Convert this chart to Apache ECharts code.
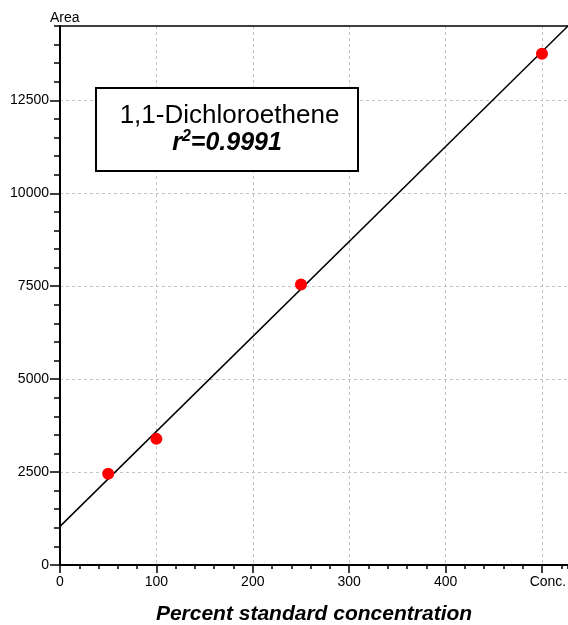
<!DOCTYPE html>
<html>
<head>
<meta charset="utf-8">
<script src="https://cdn.jsdelivr.net/npm/echarts@6/dist/echarts.min.js"></script>
<style>
html,body{margin:0;padding:0;background:#fff;}
#chart{width:568px;height:625px;}
</style>
</head>
<body>
<div id="chart"></div>
<script>
// ---- data ----
const concentrations = [50, 100, 250, 500];
const areas = [2453, 3393, 7549, 13755];
// regression line end points
const fitX = [0, 527];
const fitY = [1040, 14500];
// x tick labels (value -> text)
const xTickValues = [0, 100, 200, 300, 400, 500];
const xTickLabels = ['0', '100', '200', '300', '400', 'Conc.'];
const compoundName = '1,1-Dichloroethene';
const r2Text = '=0.9991';
const yAxisTitle = 'Area';
const xAxisTitle = 'Percent standard concentration';

const FONT = 'Liberation Sans, Arial, sans-serif';
const chart = echarts.init(document.getElementById('chart'), null, {renderer: 'canvas'});

const gridDash = {type: [3, 3], color: '#c4c4c4', width: 1};
const X_MAX = 527, Y_MAX = 14500;

const option = {
  animation: false,
  backgroundColor: '#fff',
  grid: {left: 60, right: 0, top: 26, bottom: 60, containLabel: false, outerBoundsMode: 'none'},
  xAxis: [
    {
      type: 'value', min: 0, max: X_MAX, interval: 100, position: 'bottom',
      axisLine: {show: true, lineStyle: {color: '#000', width: 2}},
      axisTick: {show: true, inside: false, length: 8, lineStyle: {color: '#000', width: 1.5}},
      axisLabel: {
        show: true, margin: 10, fontSize: 14, color: '#000', fontFamily: FONT,
        showMaxLabel: false,
        formatter: function (v) {
          const i = xTickValues.indexOf(v);
          if (i < 0) return '';
          if (xTickLabels[i] === 'Conc.') return '{c|' + xTickLabels[i] + '}';
          return xTickLabels[i];
        },
        rich: {c: {fontSize: 14, color: '#000', fontFamily: FONT, padding: [0, 0, 0, 12]}}
      },
      splitLine: {show: true, showMaxLine: false, lineStyle: gridDash},
      name: xAxisTitle, nameLocation: 'middle', nameGap: 39,
      nameTextStyle: {fontSize: 21, fontWeight: 'bold', fontStyle: 'italic', color: '#000', fontFamily: FONT}
    },
    {
      type: 'value', min: 0, max: X_MAX, interval: 20, position: 'bottom',
      axisLine: {show: false},
      axisTick: {show: true, inside: false, length: 4, lineStyle: {color: '#000', width: 1.5}},
      axisLabel: {show: false}, splitLine: {show: false}
    },
    {
      type: 'value', min: 0, max: X_MAX, position: 'top',
      axisLine: {show: true, lineStyle: {color: '#000', width: 1.5}},
      axisTick: {show: false}, axisLabel: {show: false}, splitLine: {show: false}
    }
  ],
  yAxis: [
    {
      type: 'value', min: 0, max: Y_MAX, interval: 2500, position: 'left',
      axisLine: {show: true, lineStyle: {color: '#000', width: 2}},
      axisTick: {show: true, inside: false, length: 10, lineStyle: {color: '#000', width: 1.5}},
      axisLabel: {
        show: true, margin: 11, fontSize: 14, color: '#000', fontFamily: FONT, showMaxLabel: false,
        formatter: function (v) { return String(v); }
      },
      splitLine: {show: true, showMaxLine: false, lineStyle: gridDash}
    },
    {
      type: 'value', min: 0, max: Y_MAX, interval: 500, position: 'left',
      axisLine: {show: false},
      axisTick: {show: true, inside: false, length: 6, lineStyle: {color: '#000', width: 1.5}},
      axisLabel: {show: false}, splitLine: {show: false}
    }
  ],
  series: [
    {
      type: 'line', xAxisIndex: 0, yAxisIndex: 0,
      data: fitX.map((x, i) => [x, fitY[i]]),
      symbol: 'none', silent: true, z: 2,
      lineStyle: {color: '#000', width: 1.5}
    },
    {
      type: 'scatter', xAxisIndex: 0, yAxisIndex: 0,
      data: concentrations.map((x, i) => [x, areas[i]]),
      symbol: 'circle', symbolSize: 12, z: 3,
      itemStyle: {color: '#ff0000', opacity: 1}
    }
  ],
  graphic: [
    {
      type: 'text', left: 50, top: 11, z: 10,
      style: {text: yAxisTitle, font: '14px ' + FONT, fill: '#000'}
    },
    {
      type: 'rect', z: 10,
      shape: {x: 96, y: 88, width: 262, height: 83},
      style: {fill: '#fff', stroke: '#000', lineWidth: 2}
    },
    {
      type: 'text', z: 11,
      style: {
        x: 229.5, y: 116, text: compoundName, font: '26px ' + FONT, fill: '#000',
        textAlign: 'center', textVerticalAlign: 'middle'
      }
    },
    {
      type: 'text', z: 11,
      style: {
        x: 227, y: 143,
        text: '{r|r}{s|2}{r|' + r2Text + '}',
        textAlign: 'center', textVerticalAlign: 'middle',
        rich: {
          r: {fontSize: 25, fontWeight: 'bold', fontStyle: 'italic', fontFamily: FONT, fill: '#000', color: '#000', lineHeight: 28},
          s: {fontSize: 16, fontWeight: 'bold', fontStyle: 'italic', fontFamily: FONT, fill: '#000', color: '#000', verticalAlign: 'top', lineHeight: 28, padding: [0, 0, 10, 0]}
        }
      }
    }
  ]
};
chart.setOption(option);
</script>
</body>
</html>
